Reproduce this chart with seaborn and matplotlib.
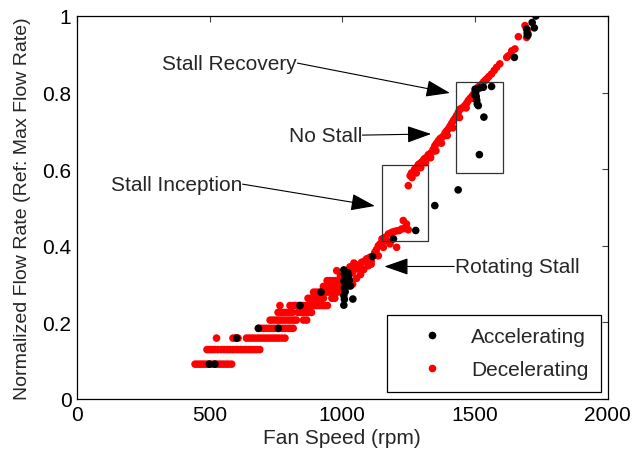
import numpy as np
import pandas as pd
import matplotlib
matplotlib.use("Agg")
import matplotlib.pyplot as plt
import seaborn as sns
from matplotlib.patches import Rectangle
from matplotlib.lines import Line2D

# ---------------- data ----------------
# Decelerating: quantized low-speed rows (flow level -> list of fan speeds)
dec_row_flow = [0.091, 0.129, 0.159, 0.1845, 0.206, 0.226, 0.244, 0.263, 0.279, 0.294, 0.309]
dec_row_rpm = [
    [445, 454, 463, 472, 481, 490, 499, 508, 517, 526, 535, 544, 553, 563, 572, 583],
    [490, 499, 509, 519, 531, 544, 556, 567, 577, 587, 597, 607, 617, 627, 637, 647, 657, 667, 677, 689],
    [526, 588, 597, 607, 639, 649, 659, 669, 680, 690, 700, 710, 720, 730, 740, 750, 760, 772, 784],
    [684, 694, 704, 714, 724, 734, 744, 754, 764, 774, 785, 795, 805, 815],
    [728, 738, 748, 758, 768, 778, 789, 799, 809, 819, 827, 854, 866],
    [758, 768, 779, 789, 800, 811, 833, 843, 853, 863, 873, 884],
    [765, 803, 813, 823, 833, 843, 853, 863, 873, 883, 894, 904, 914, 924, 934, 944],
    [871, 881, 891, 902, 912, 922, 929, 961, 972],
    [892, 902, 912, 922, 932, 942, 952, 962, 972, 984],
    [929, 939, 949, 959, 969, 979, 989, 1002, 1019],
    [943, 953, 963, 973, 981, 1017, 1027],
]
# Decelerating: rest of the curve
dec_rpm = [979, 993, 1019, 1029, 1039, 1049, 1044, 1054, 1059, 1069, 1073, 1084, 1092, 1098,
           1104, 1109, 1119, 1123, 1129, 1136, 1136, 1143, 1149, 1155, 1161, 1168, 1174, 1180,
           1186, 1195, 1205, 1205, 1215, 1224, 1230, 1235, 1242, 1249, 1039, 1054, 1069, 1081,
           1109, 1150,
           1249, 1256, 1261, 1268, 1273, 1281, 1287, 1293, 1299, 1306, 1311, 1318, 1325, 1331,
           1337, 1343, 1349, 1355, 1362, 1369, 1376, 1382, 1388, 1394, 1400, 1407, 1413, 1419,
           1425, 1431, 1438, 1444, 1452, 1462, 1469, 1475, 1482, 1489, 1495, 1501, 1507, 1513,
           1520, 1526, 1533, 1539, 1545, 1553, 1563, 1573, 1582, 1594, 1620, 1626, 1639, 1651,
           1664, 1689, 1695, 1701, 1698,
           1263, 1279, 1296, 1314, 1333, 1353, 1374, 1396, 1417, 1442, 1467, 1493]
dec_flow = [0.335, 0.322, 0.335, 0.345, 0.33, 0.34, 0.355, 0.35, 0.34, 0.345, 0.357, 0.36, 0.366, 0.348,
            0.37, 0.36, 0.375, 0.383, 0.39, 0.374, 0.40, 0.405, 0.409, 0.396, 0.422, 0.413, 0.431, 0.405,
            0.435, 0.437, 0.439, 0.396, 0.44, 0.444, 0.466, 0.445, 0.457, 0.442, 0.30, 0.315, 0.325, 0.338,
            0.352, 0.418,
            0.557, 0.583, 0.590, 0.592, 0.600, 0.605, 0.612, 0.615, 0.618, 0.624, 0.628, 0.631, 0.638, 0.640,
            0.644, 0.652, 0.661, 0.667, 0.674, 0.680, 0.683, 0.687, 0.695, 0.700, 0.705, 0.713, 0.720, 0.727,
            0.733, 0.740, 0.749, 0.757, 0.760, 0.766, 0.772, 0.779, 0.785, 0.790, 0.796, 0.802, 0.809, 0.815,
            0.818, 0.822, 0.828, 0.832, 0.836, 0.842, 0.849, 0.858, 0.866, 0.875, 0.892, 0.896, 0.909, 0.914,
            0.946, 0.975, 0.944, 0.953, 0.962,
            0.578, 0.590, 0.604, 0.617, 0.630, 0.648, 0.668, 0.688, 0.708, 0.735, 0.760, 0.785]

# Accelerating
acc_rpm = [499, 520, 602, 684, 759, 841, 920,
           1006, 1008, 1010, 1006, 1013, 1008, 1011, 1006, 1008, 1006, 1021, 1024, 1027, 1019, 1040, 1031,
           1114, 1193, 1277, 1349, 1437, 1517, 1534, 1563, 1532, 1501, 1503, 1505, 1507, 1509, 1513,
           1499, 1518, 1649, 1695, 1697, 1699, 1716, 1724, 1730]
acc_flow = [0.091, 0.091, 0.159, 0.1845, 0.1845, 0.244, 0.279,
            0.337, 0.327, 0.318, 0.308, 0.300, 0.290, 0.280, 0.270, 0.260, 0.245, 0.330, 0.320, 0.310, 0.305, 0.261, 0.295,
            0.372, 0.418, 0.440, 0.505, 0.546, 0.638, 0.736, 0.816, 0.814, 0.809, 0.800, 0.790, 0.780, 0.770, 0.766,
            0.795, 0.812, 0.892, 0.966, 0.955, 0.949, 0.983, 0.969, 1.000]

modes = ["Accelerating", "Decelerating"]

# ---------------- build frame ----------------
rows_x, rows_y = [], []
for fy, xs in zip(dec_row_flow, dec_row_rpm):
    rows_x += xs
    rows_y += [fy] * len(xs)
dec_x = rows_x + dec_rpm
dec_y = rows_y + dec_flow
df = pd.DataFrame({
    "rpm": dec_x + acc_rpm,
    "flow": dec_y + acc_flow,
    "mode": ["Decelerating"] * len(dec_x) + ["Accelerating"] * len(acc_rpm),
})

# ---------------- plot ----------------
sns.set_style("white")
plt.rcParams["font.family"] = ["Liberation Sans", "DejaVu Sans"]
FS = 15

fig = plt.figure(figsize=(6.33, 4.56), dpi=100)
ax = fig.add_axes([77 / 633, 1 - 400 / 456, 530.5 / 633, 383 / 456])

sns.scatterplot(data=df, x="rpm", y="flow", hue="mode", hue_order=modes,
                palette={"Accelerating": "black", "Decelerating": "red"},
                s=30, linewidth=0, ax=ax, legend=False, zorder=3)

ax.set_xlim(0, 2000)
ax.set_ylim(0, 1)
ax.set_xticks([0, 500, 1000, 1500, 2000])
ax.set_yticks([0, 0.2, 0.4, 0.6, 0.8, 1.0])
ax.set_xticklabels(["0", "500", "1000", "1500", "2000"])
ax.set_yticklabels(["0", "0.2", "0.4", "0.6", "0.8", "1"])
ax.tick_params(direction="in", length=4, width=0.8, color="#444444",
               top=True, right=True, labelsize=FS, pad=4, labelcolor="black")
for sp in ax.spines.values():
    sp.set_visible(True)
    sp.set_color("black")
    sp.set_linewidth(0.9)
ax.set_xlabel("Fan Speed (rpm)", fontsize=FS, labelpad=3)
ax.set_ylabel("Normalized Flow Rate (Ref: Max Flow Rate)", fontsize=14, labelpad=8)

# boxes
ax.add_patch(Rectangle((1150, 0.4125), 173, 0.1985, fill=False, edgecolor="#333333", lw=0.9, zorder=4))
ax.add_patch(Rectangle((1429, 0.590), 177, 0.238, fill=False, edgecolor="#333333", lw=0.9, zorder=4))

# annotations
arrow = dict(arrowstyle="-|>,head_length=1.0,head_width=0.35", mutation_scale=15,
             color="black", lw=0.8, shrinkA=0, shrinkB=0)
labels_txt = ["Stall Recovery", "No Stall", "Stall Inception"]
text_pos = [(320, 0.877), (799, 0.689), (128, 0.561)]
tail_pos = [(831, 0.877), (1076, 0.689), (624, 0.561)]
tip_pos = [(1406, 0.799), (1335, 0.692), (1123, 0.504)]
for t, tp, tl, tip in zip(labels_txt, text_pos, tail_pos, tip_pos):
    ax.text(tp[0], tp[1], t, fontsize=FS, ha="left", va="center", zorder=5)
    ax.annotate("", xy=tip, xytext=tl, arrowprops=arrow, zorder=5)
ax.text(1425, 0.345, "Rotating Stall", fontsize=FS, ha="left", va="center", zorder=5)
ax.annotate("", xy=(1159, 0.346), xytext=(1422, 0.346), arrowprops=arrow, zorder=5)

# legend
handles = [Line2D([], [], ls="none", marker="o", color="black", markersize=4.5),
           Line2D([], [], ls="none", marker="o", color="red", markersize=4.5)]
leg = ax.legend(handles, modes, loc="lower right", bbox_to_anchor=(0.9877, 0.0183),
                borderaxespad=0, fontsize=FS, frameon=True, fancybox=False,
                framealpha=1, edgecolor="black", borderpad=0.6, handlelength=3.15,
                handletextpad=0.3, labelspacing=0.68)
leg.get_frame().set_linewidth(0.9)

fig.savefig("out.png", dpi=100, facecolor="white")
